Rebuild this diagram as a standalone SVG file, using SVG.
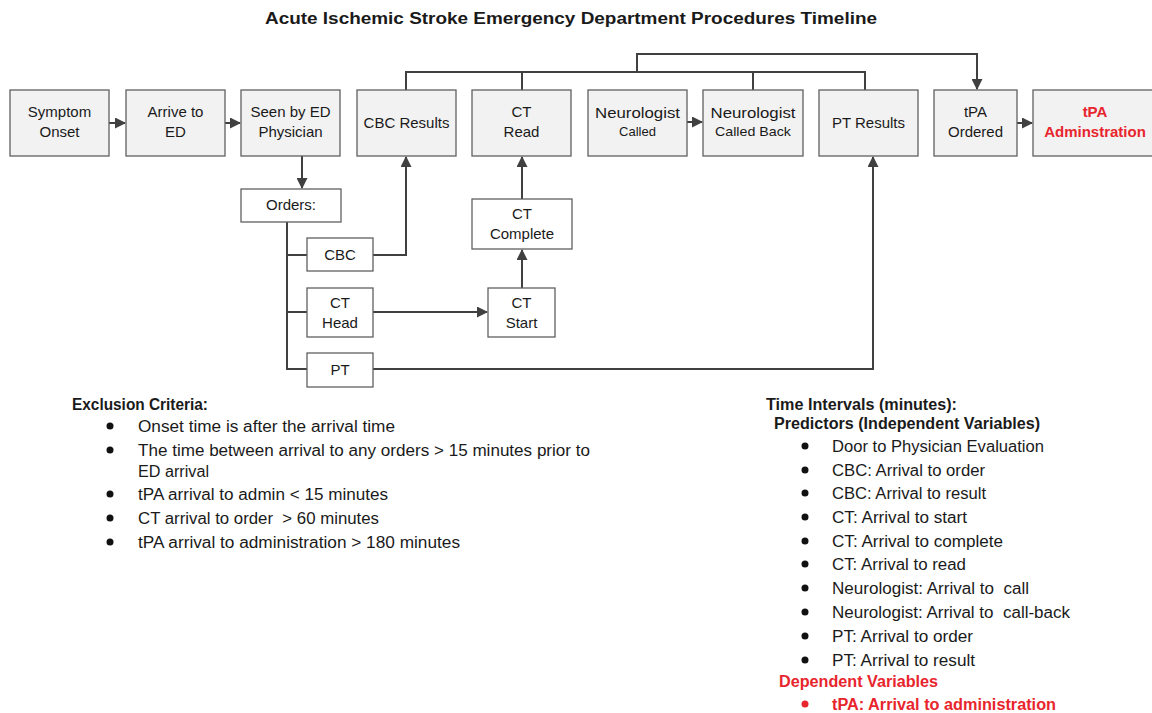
<svg xmlns="http://www.w3.org/2000/svg" width="1152" height="713" viewBox="0 0 1152 713">
<defs>
<marker id="arr" markerWidth="11" markerHeight="11" refX="10" refY="5.5" orient="auto" markerUnits="userSpaceOnUse">
<path d="M0,0 L11,5.5 L0,11 Z" fill="#404040"/>
</marker>
<style>
.box{fill:#f2f2f2;stroke:#606060;stroke-width:1.3}
.wbox{fill:#ffffff;stroke:#606060;stroke-width:1.3}
.t{font-family:"Liberation Sans",Arial,sans-serif;font-size:15px;fill:#1a1a1a;text-anchor:middle}
.s{font-size:13px}
.red{fill:#e8252d;font-weight:bold}
.ln{fill:none;stroke:#404040;stroke-width:2}
.l{font-family:"Liberation Sans",Arial,sans-serif;font-size:16px;fill:#1a1a1a}
.b{font-weight:bold}
.r{fill:#e8252d}
</style>
</defs>
<rect width="1152" height="713" fill="#ffffff"/>
<text x="571" y="24" class="l b" text-anchor="middle" textLength="612" lengthAdjust="spacingAndGlyphs">Acute Ischemic Stroke Emergency Department Procedures Timeline</text>

<g id="connectors">
<line class="ln" x1="109" y1="123" x2="125" y2="123" marker-end="url(#arr)"/>
<line class="ln" x1="225" y1="123" x2="240" y2="123" marker-end="url(#arr)"/>
<line class="ln" x1="687" y1="122" x2="702" y2="122" marker-end="url(#arr)"/>
<line class="ln" x1="1017" y1="123" x2="1032" y2="123" marker-end="url(#arr)"/>
<line class="ln" x1="302" y1="156" x2="302" y2="188" marker-end="url(#arr)"/>
<polyline class="ln" points="406,90 406,72 865,72 865,90"/>
<line class="ln" x1="522" y1="72" x2="522" y2="90"/>
<line class="ln" x1="753" y1="72" x2="753" y2="90"/>
<polyline class="ln" points="637,72 637,54 977,54 977,89" marker-end="url(#arr)"/>
<polyline class="ln" points="287,222 287,369 307,369"/>
<line class="ln" x1="287" y1="255" x2="307" y2="255"/>
<line class="ln" x1="287" y1="312" x2="307" y2="312"/>
<polyline class="ln" points="373,255 406,255 406,157" marker-end="url(#arr)"/>
<line class="ln" x1="373" y1="312" x2="487" y2="312" marker-end="url(#arr)"/>
<line class="ln" x1="522" y1="288" x2="522" y2="250" marker-end="url(#arr)"/>
<line class="ln" x1="522" y1="199" x2="522" y2="157" marker-end="url(#arr)"/>
<polyline class="ln" points="373,369 873,369 873,157" marker-end="url(#arr)"/>
</g>

<g id="symptom-onset"><rect class="box" x="10" y="90" width="99" height="66"/><text class="t" x="59.5" y="117">Symptom</text><text class="t" x="59.5" y="137">Onset</text></g>
<g id="arrive-ed"><rect class="box" x="126" y="90" width="99" height="66"/><text class="t" x="175.5" y="117">Arrive to</text><text class="t" x="175.5" y="137">ED</text></g>
<g id="seen-ed"><rect class="box" x="241" y="90" width="99" height="66"/><text class="t" x="290.5" y="117">Seen by ED</text><text class="t" x="290.5" y="137">Physician</text></g>
<g id="cbc-results"><rect class="box" x="357" y="90" width="99" height="66"/><text class="t" x="406.5" y="128">CBC Results</text></g>
<g id="ct-read"><rect class="box" x="472" y="90" width="99" height="66"/><text class="t" x="521.5" y="117">CT</text><text class="t" x="521.5" y="137">Read</text></g>
<g id="neuro-called"><rect class="box" x="588" y="90" width="99" height="66"/><text class="t" x="637.5" y="118" textLength="85" lengthAdjust="spacingAndGlyphs">Neurologist</text><text class="t s" x="637.5" y="136">Called</text></g>
<g id="neuro-called-back"><rect class="box" x="703" y="90" width="100" height="66"/><text class="t" x="753" y="118" textLength="85" lengthAdjust="spacingAndGlyphs">Neurologist</text><text class="t s" x="753" y="136" textLength="76" lengthAdjust="spacingAndGlyphs">Called Back</text></g>
<g id="pt-results"><rect class="box" x="819" y="90" width="99" height="66"/><text class="t" x="868.5" y="128">PT Results</text></g>
<g id="tpa-ordered"><rect class="box" x="934" y="90" width="83" height="66"/><text class="t" x="975.5" y="117">tPA</text><text class="t" x="975.5" y="137">Ordered</text></g>
<g id="tpa-admin"><rect class="box" x="1033" y="90" width="125" height="66"/><text class="t red" x="1095" y="117">tPA</text><text class="t red" x="1095" y="137">Adminstration</text></g>

<g id="orders"><rect class="wbox" x="241" y="189" width="100" height="33"/><text class="t" x="291" y="210">Orders:</text></g>
<g id="cbc"><rect class="wbox" x="307" y="238" width="66" height="33"/><text class="t" x="340" y="260">CBC</text></g>
<g id="ct-head"><rect class="wbox" x="307" y="288" width="66" height="49"/><text class="t" x="340" y="308">CT</text><text class="t" x="340" y="328">Head</text></g>
<g id="pt"><rect class="wbox" x="307" y="353" width="66" height="34"/><text class="t" x="340" y="375">PT</text></g>
<g id="ct-start"><rect class="wbox" x="488" y="288" width="67" height="49"/><text class="t" x="521.5" y="308">CT</text><text class="t" x="521.5" y="328">Start</text></g>
<g id="ct-complete"><rect class="wbox" x="472" y="199" width="100" height="50"/><text class="t" x="522" y="219">CT</text><text class="t" x="522" y="239">Complete</text></g>

<g id="exclusion">
<text class="l b" x="72" y="410" textLength="136" lengthAdjust="spacingAndGlyphs">Exclusion Criteria:</text>
<circle cx="110" cy="426" r="3.5" fill="#111"/><text class="l" x="138" y="432" textLength="257" lengthAdjust="spacingAndGlyphs">Onset time is after the arrival time</text>
<circle cx="110" cy="450" r="3.5" fill="#111"/><text class="l" x="138" y="456" textLength="452" lengthAdjust="spacingAndGlyphs">The time between arrival to any orders &gt; 15 minutes prior to</text>
<text class="l" x="138" y="477" textLength="71" lengthAdjust="spacingAndGlyphs">ED arrival</text>
<circle cx="110" cy="494" r="3.5" fill="#111"/><text class="l" x="138" y="500" textLength="250" lengthAdjust="spacingAndGlyphs">tPA arrival to admin &lt; 15 minutes</text>
<circle cx="110" cy="518" r="3.5" fill="#111"/><text class="l" x="138" y="524" textLength="241" lengthAdjust="spacingAndGlyphs" xml:space="preserve">CT arrival to order  &gt; 60 minutes</text>
<circle cx="110" cy="542" r="3.5" fill="#111"/><text class="l" x="138" y="548" textLength="322" lengthAdjust="spacingAndGlyphs">tPA arrival to administration &gt; 180 minutes</text>
</g>

<g id="intervals">
<text class="l b" x="766" y="410" textLength="191" lengthAdjust="spacingAndGlyphs">Time Intervals (minutes):</text>
<text class="l b" x="774" y="429" textLength="266" lengthAdjust="spacingAndGlyphs">Predictors (Independent Variables)</text>
<circle cx="805" cy="446" r="3.5" fill="#111"/><text class="l" x="832" y="452" textLength="212" lengthAdjust="spacingAndGlyphs">Door to Physician Evaluation</text>
<circle cx="805" cy="470" r="3.5" fill="#111"/><text class="l" x="832" y="476" textLength="153" lengthAdjust="spacingAndGlyphs">CBC: Arrival to order</text>
<circle cx="805" cy="493" r="3.5" fill="#111"/><text class="l" x="832" y="499" textLength="154" lengthAdjust="spacingAndGlyphs">CBC: Arrival to result</text>
<circle cx="805" cy="517" r="3.5" fill="#111"/><text class="l" x="832" y="523" textLength="135" lengthAdjust="spacingAndGlyphs">CT: Arrival to start</text>
<circle cx="805" cy="541" r="3.5" fill="#111"/><text class="l" x="832" y="547" textLength="171" lengthAdjust="spacingAndGlyphs">CT: Arrival to complete</text>
<circle cx="805" cy="564" r="3.5" fill="#111"/><text class="l" x="832" y="570" textLength="134" lengthAdjust="spacingAndGlyphs">CT: Arrival to read</text>
<circle cx="805" cy="588" r="3.5" fill="#111"/><text class="l" x="832" y="594" textLength="197" lengthAdjust="spacingAndGlyphs" xml:space="preserve">Neurologist: Arrival to  call</text>
<circle cx="805" cy="612" r="3.5" fill="#111"/><text class="l" x="832" y="618" textLength="238" lengthAdjust="spacingAndGlyphs" xml:space="preserve">Neurologist: Arrival to  call-back</text>
<circle cx="805" cy="636" r="3.5" fill="#111"/><text class="l" x="832" y="642" textLength="141" lengthAdjust="spacingAndGlyphs">PT: Arrival to order</text>
<circle cx="805" cy="660" r="3.5" fill="#111"/><text class="l" x="832" y="666" textLength="143" lengthAdjust="spacingAndGlyphs">PT: Arrival to result</text>
<text class="l b r" x="779" y="687" textLength="159" lengthAdjust="spacingAndGlyphs">Dependent Variables</text>
<circle cx="805" cy="704" r="3.5" fill="#e8252d"/><text class="l b r" x="832" y="710" textLength="224" lengthAdjust="spacingAndGlyphs">tPA: Arrival to administration</text>
</g>
</svg>
